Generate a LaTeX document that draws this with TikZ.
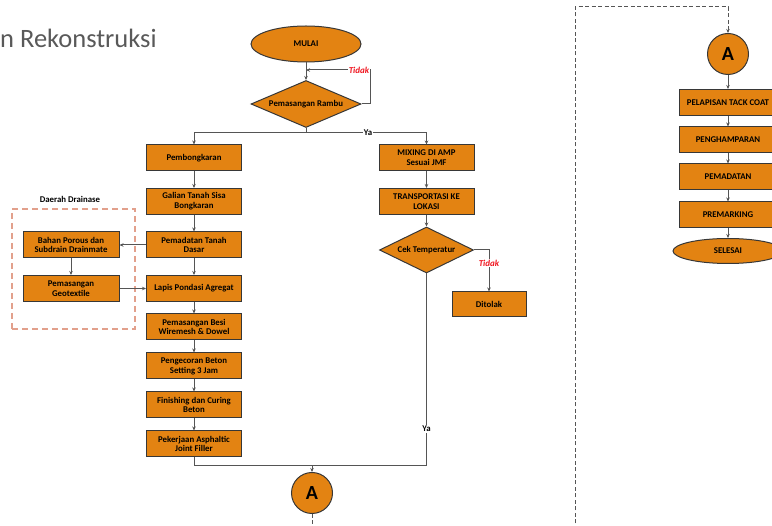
\documentclass[tikz,border=0pt]{standalone}
\usepackage{fontspec}
\setmainfont{Carlito}[BoldFont={Carlito Bold},ItalicFont={Carlito Italic},BoldItalicFont={Carlito Bold Italic}]
\usetikzlibrary{shapes.geometric,arrows.meta}
\definecolor{boxfill}{RGB}{227,131,18}
\definecolor{boxline}{RGB}{55,55,55}
\definecolor{linegrey}{RGB}{85,85,85}
\definecolor{drainline}{RGB}{226,160,140}
\definecolor{titlegrey}{RGB}{89,89,89}
\definecolor{tidakred}{RGB}{240,20,30}
\begin{document}
\begin{tikzpicture}[x=1pt,y=-1pt,
  every node/.style={font=\fontsize{8.8}{9.8}\selectfont\bfseries, align=center, inner sep=1pt},
  stepbox/.style={draw=boxline, fill=boxfill, line width=1pt, minimum width=95pt, minimum height=26pt},
  terminal/.style={ellipse, draw=boxline, fill=boxfill, line width=1pt, minimum width=110pt},
  decision/.style={diamond, aspect=2, inner sep=0pt, draw=boxline, fill=boxfill, line width=1pt},
  connector/.style={circle, draw=boxline, fill=boxfill, line width=1pt, minimum size=41pt, inner sep=0pt,
    font=\fontsize{20}{21}\selectfont\bfseries},
  flow/.style={draw=linegrey, line width=1pt, -{Stealth[length=4pt,width=3.5pt]}},
  line/.style={draw=linegrey, line width=1pt},
  dashlink/.style={draw=linegrey, line width=1pt, dash pattern=on 4pt off 2.5pt},
  answer/.style={fill=white, inner sep=1.2pt},
  tidak/.style={answer, text=tidakred, font=\fontsize{9}{10}\selectfont\bfseries\itshape}
]
\clip (0,0) rectangle (772,526);

% page heading
\node[anchor=base west, inner sep=0pt, text=titlegrey, font=\fontsize{26.5}{30}\selectfont] (title) at (0,48) {n Rekonstruksi};

% start and sign installation
\node[terminal, minimum height=36pt] (mulai) at (306,44) {MULAI};
\node[decision, minimum width=110pt, minimum height=47pt] (rambu) at (306,104) {Pemasangan Rambu};

% concrete works column
\node[stepbox] (pemb)   at (194,158)   {Pembongkaran};
\node[stepbox] (galian) at (194,201.5) {Galian Tanah Sisa\\Bongkaran};
\node[stepbox] (padat)  at (194,245)   {Pemadatan Tanah\\Dasar};
\node[stepbox] (lapis)  at (194,288.5) {Lapis Pondasi Agregat};
\node[stepbox] (besi)   at (194,327)   {Pemasangan Besi\\Wiremesh \& Dowel};
\node[stepbox] (cor)    at (194,366)   {Pengecoran Beton\\Setting 3 Jam};
\node[stepbox] (finish) at (194,405)   {Finishing dan Curing\\Beton};
\node[stepbox] (joint)  at (194,444)   {Pekerjaan Asphaltic\\Joint Filler};

% drainage area
\node[draw=drainline, line width=1.2pt, dash pattern=on 6pt off 4pt, minimum width=123pt, minimum height=120pt] (drainbox) at (73.5,269) {};
\node (drainlbl) at (70,199) {Daerah Drainase};
\node[stepbox, minimum width=96pt] (porous) at (71,245)   {Bahan Porous dan\\Subdrain Drainmate};
\node[stepbox, minimum width=96pt] (geo)    at (71,288.5) {Pemasangan\\Geotextile};

% asphalt column
\node[stepbox] (mix)   at (426.5,158)   {MIXING DI AMP\\Sesuai JMF};
\node[stepbox] (trans) at (426.5,201.5) {TRANSPORTASI KE\\LOKASI};
\node[decision, minimum width=94pt, minimum height=46pt] (cek) at (426.5,250) {Cek Temperatur};
\node[stepbox, minimum width=74pt, minimum height=25pt] (tolak) at (489,304.5) {Ditolak};

% off-page connectors
\node[connector] (A1) at (312,493) {A};
\node[connector] (A2) at (728,54) {A};

% finishing column
\node[stepbox, minimum width=98pt] (tack)   at (728,102.5) {PELAPISAN TACK COAT};
\node[stepbox, minimum width=98pt] (hampar) at (728,140)   {PENGHAMPARAN};
\node[stepbox, minimum width=98pt] (padat2) at (728,177)   {PEMADATAN};
\node[stepbox, minimum width=98pt] (mark)   at (728,215)   {PREMARKING};
\node[terminal, minimum height=25pt] (selesai) at (728,251) {SELESAI};

% helper points
\coordinate (loopin) at (306,70);
\coordinate (loopR)  at (370,70);
\coordinate (yaj)    at (306,133);
\coordinate (merge)  at (312,466);
\coordinate (lowA)   at (312,530);
\coordinate (c1)     at (575,530);
\coordinate (c2)     at (575,7);
\coordinate (c3)     at (728,7);

% start, sign loop and split
\draw[flow] (mulai) -- (rambu);
\draw[flow] (rambu.east) -| (loopR) -- (loopin);
\node[tidak] (tidak1) at (359,70) {Tidak};
\draw[line] (rambu.south) -- (yaj);
\draw[flow] (yaj) -| (pemb.north);
\draw[flow] (yaj) -| (mix.north);
\node[answer] (ya1) at (368,133) {Ya};

% concrete works
\draw[flow] (pemb) -- (galian);
\draw[flow] (galian) -- (padat);
\draw[flow] (padat) -- (lapis);
\draw[flow] (lapis) -- (besi);
\draw[flow] (besi) -- (cor);
\draw[flow] (cor) -- (finish);
\draw[flow] (finish) -- (joint);

% drainage branch
\draw[flow] (padat.west) -- (porous.east);
\draw[flow] (porous) -- (geo);
\draw[flow] (geo.east) -- (lapis.west);

% asphalt branch
\draw[flow] (mix) -- (trans);
\draw[flow] (trans) -- (cek);
\draw[flow] (cek.east) -| (tolak.north);
\node[tidak] (tidak2) at (489,263) {Tidak};

% merge into connector A
\draw[line] (joint.south) |- (merge);
\draw[line] (cek.south) |- (merge);
\node[answer] (ya2) at (426.5,429) {Ya};
\draw[flow] (merge) -- (A1.north);

% continuation
\draw[dashlink] (A1.south) -- (lowA);
\draw[dashlink, -{Stealth[length=4pt,width=3.5pt]}] (c1) -- (c2) -- (c3) -- (A2.north);
\draw[flow] (A2) -- (tack);
\draw[flow] (tack) -- (hampar);
\draw[flow] (hampar) -- (padat2);
\draw[flow] (padat2) -- (mark);
\draw[flow] (mark) -- (selesai);
\end{tikzpicture}
\end{document}
